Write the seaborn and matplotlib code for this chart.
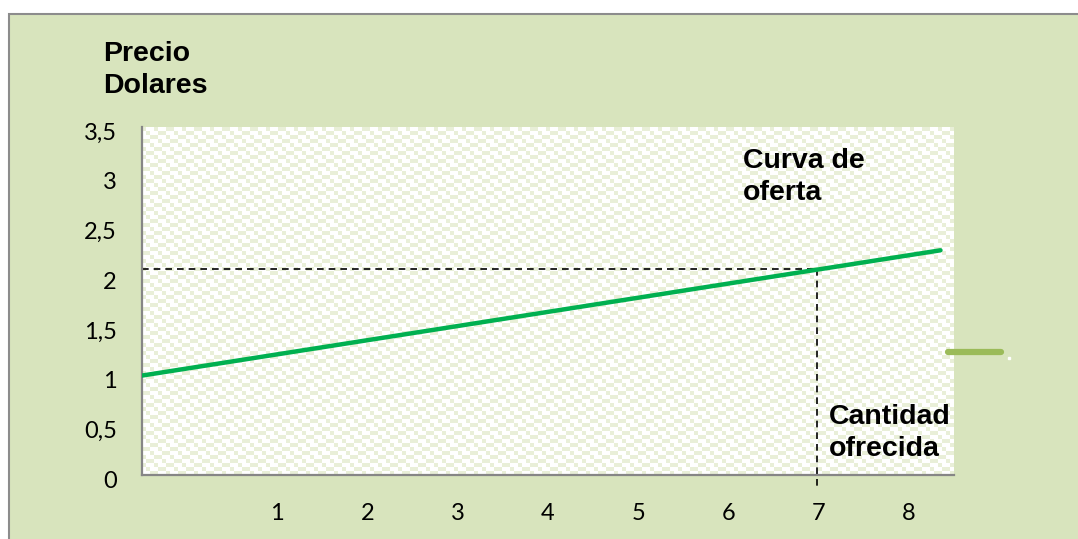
import numpy as np
import pandas as pd
import matplotlib
matplotlib.use("Agg")
import matplotlib.pyplot as plt
from matplotlib.colors import ListedColormap
from matplotlib.patches import Rectangle
from matplotlib.lines import Line2D
import matplotlib.transforms as mtransforms
import seaborn as sns

# ---- data ----
supply_q = [-0.5, 8.35]        # cantidad (start / end of the drawn curve)
supply_p = [1.0, 2.26]          # precio
eq_q = 6.98                     # cantidad ofrecida
eq_p = 2.068                    # precio correspondiente
x_ticks = [1, 2, 3, 4, 5, 6, 7, 8]
y_ticks = [0, 0.5, 1, 1.5, 2, 2.5, 3, 3.5]
y_tick_labels = ["0", "0,5", "1", "1,5", "2", "2,5", "3", "3,5"]

BG = "#D8E4BD"
GREEN = "#00B050"

sns.set_theme(style="white")
plt.rcParams["font.family"] = ["Lato", "DejaVu Sans"]

W, H = 1078, 539
fig = plt.figure(figsize=(W / 100, H / 100), dpi=100)
fig.patch.set_facecolor("white")

# outer chart frame
frame = Rectangle((9 / W, -0.1), 1.2, (H - 14) / H + 0.1,
                  transform=fig.transFigure, facecolor=BG,
                  edgecolor="#8C8C8C", linewidth=1.5, zorder=-5)
fig.patches.append(frame)

ax = fig.add_axes([142 / W, (H - 475) / H, (954 - 142) / W, (475 - 127) / H])
ax.set_zorder(2)
ax.set_facecolor("white")

# textured plot-area background
ny, nx = 87, 203
ii, jj = np.mgrid[0:ny, 0:nx]
pattern = (((ii * 3 + jj * 5) % 7) < 3).astype(float)
ax.imshow(pattern, cmap=ListedColormap(["#FFFFFF", "#E9EFD8"]),
          extent=[-0.5, 8.5, 0, 3.5], aspect="auto", interpolation="nearest",
          zorder=0)

df = pd.DataFrame({"Cantidad": supply_q, "Precio": supply_p})
sns.lineplot(data=df, x="Cantidad", y="Precio", ax=ax, color=GREEN,
             linewidth=3.2, zorder=3)

ax.plot([-0.5, eq_q], [eq_p, eq_p], color="black", linestyle=(0, (4, 3)),
        linewidth=1.2, zorder=2)
ax.plot([eq_q, eq_q], [eq_p, -0.12], color="black", linestyle=(0, (4, 3)),
        linewidth=1.2, zorder=2, clip_on=False)

ax.set_xlim(-0.5, 8.5)
ax.set_ylim(0, 3.5)
ax.set_xticks(x_ticks)
ax.set_xticklabels([str(t) for t in x_ticks])
ax.set_yticks(y_ticks)
ax.set_yticklabels(y_tick_labels)
ax.tick_params(axis="both", length=0, labelsize=17, colors="black")
ax.tick_params(axis="y", pad=18)
ax.tick_params(axis="x", pad=20)
offset = mtransforms.ScaledTranslation(0, -4 / 100, fig.dpi_scale_trans)
for lbl in ax.get_yticklabels():
    lbl.set_transform(lbl.get_transform() + offset)
ax.set_xlabel("")
ax.set_ylabel("")
for s in ["top", "right"]:
    ax.spines[s].set_visible(False)
for s in ["left", "bottom"]:
    ax.spines[s].set_color("#868686")
    ax.spines[s].set_linewidth(1.6)
ax.grid(False)

bold = dict(family=["Liberation Sans", "DejaVu Sans"], fontweight="bold",
            fontsize=20.5, color="black", linespacing=1.3, zorder=5)
fig.text(103 / W, 1 - 41 / H, "Precio\nDolares", ha="left", va="top", **bold)
fig.text(743 / W, 1 - 148 / H, "Curva de\noferta", ha="left", va="top", **bold)
fig.text(829 / W, 1 - 404 / H, "Cantidad\nofrecida", ha="left", va="top", **bold)

# legend-like remnant on the right
fig.lines.append(Line2D([948 / W, 1001 / W], [1 - 352 / H, 1 - 352 / H],
                        transform=fig.transFigure, color="#9BBB59",
                        linewidth=4.5, solid_capstyle="round", zorder=5))
fig.lines.append(Line2D([1009 / W], [1 - 358 / H], transform=fig.transFigure,
                        marker="s", markersize=1.5, color="white",
                        linestyle="none", zorder=5))

fig.savefig("out.png", dpi=100, facecolor=fig.get_facecolor())
